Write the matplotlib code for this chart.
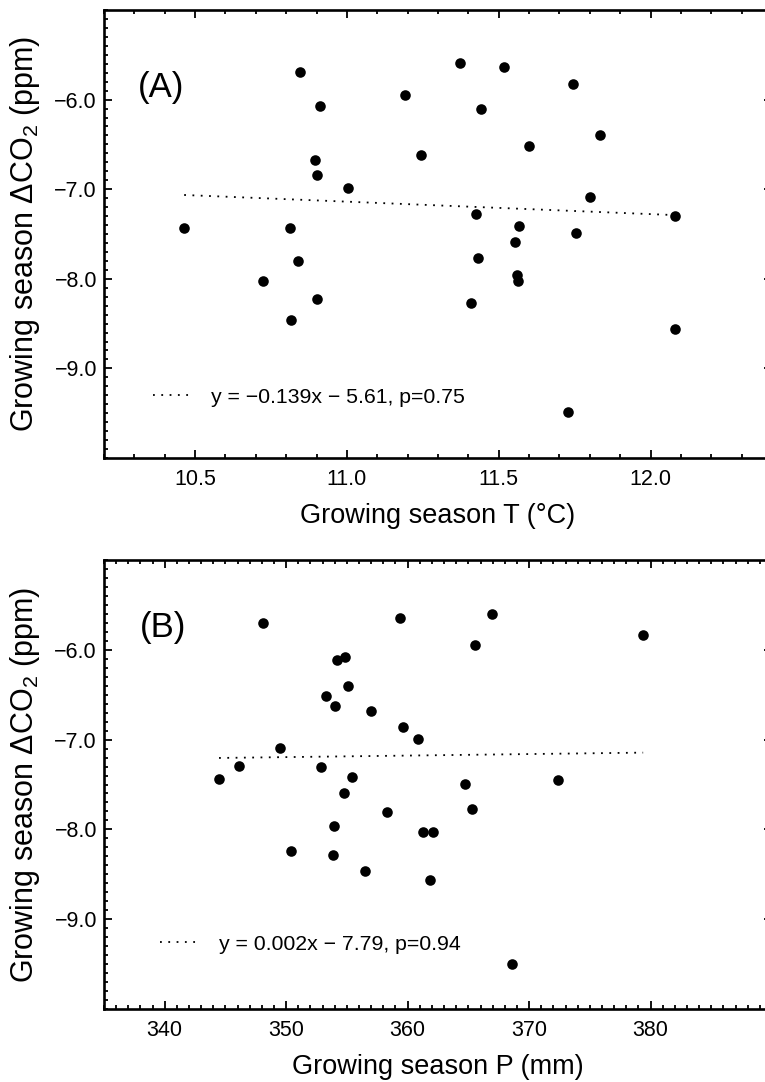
import numpy as np
import matplotlib
matplotlib.use("Agg")
import matplotlib.pyplot as plt
from matplotlib.ticker import MultipleLocator, FuncFormatter

plt.rcParams['font.family'] = ['Liberation Sans', 'DejaVu Sans']
plt.rcParams['mathtext.fontset'] = 'custom'
plt.rcParams['mathtext.rm'] = 'Liberation Sans'
plt.rcParams['mathtext.it'] = 'Liberation Sans:italic'

# panel A: growing season temperature vs delta CO2
temp_a = [10.844, 10.911, 10.896, 10.901, 11.004, 10.464, 10.811, 10.839,
          10.725, 10.901, 10.817, 11.371, 11.518, 11.744, 11.191, 11.443,
          11.834, 11.243, 11.599, 11.802, 11.424, 12.079, 11.568, 11.755,
          11.555, 11.432, 11.559, 11.565, 11.410, 12.079, 11.729]
dco2_a = [-5.696, -6.074, -6.672, -6.847, -6.985, -7.435, -7.435, -7.806,
          -8.025, -8.230, -8.464, -5.591, -5.640, -5.825, -5.948, -6.104,
          -6.390, -6.613, -6.513, -7.089, -7.282, -7.304, -7.416, -7.490,
          -7.587, -7.765, -7.962, -8.025, -8.274, -8.564, -9.486]

# panel B: growing season precipitation vs delta CO2
precip_b = [348.12, 354.16, 354.81, 355.09, 353.28, 354.04, 356.98, 349.49,
            346.12, 344.47, 352.84, 355.42, 354.76, 359.37, 366.96, 365.51,
            379.39, 359.59, 360.82, 364.72, 372.37, 358.32, 353.93, 350.40,
            353.88, 356.46, 365.29, 361.28, 362.05, 361.81, 368.61]
dco2_b = [-5.703, -6.111, -6.082, -6.398, -6.520, -6.621, -6.677, -7.097,
          -7.290, -7.438, -7.309, -7.420, -7.591, -5.643, -5.599, -5.952,
          -5.833, -6.855, -6.989, -7.498, -7.446, -7.803, -7.966, -8.238,
          -8.282, -8.468, -7.773, -8.033, -8.033, -8.568, -9.494]

# fitted lines (slope, intercept)
fit_a = (-0.139, -5.61)
fit_b = (0.0017, -7.79)
label_a = "y = \u22120.139x \u2212 5.61, p=0.75"
label_b = "y = 0.002x \u2212 7.79, p=0.94"

xticks_a = [10.5, 11.0, 11.5, 12.0]
xticks_b = [340, 350, 360, 370, 380]
yticks = [-6, -7, -8, -9]

def fmt(spec):
    return FuncFormatter(lambda v, pos: (spec % v).replace('-', '\u2212'))

fig = plt.figure(figsize=(7.65, 10.82), dpi=100)
W, H = 765, 1082

def make_ax(top, bottom):
    left, right = 104, 772
    return fig.add_axes([left / W, 1 - bottom / H, (right - left) / W, (bottom - top) / H])

ax1 = make_ax(10, 458)
ax2 = make_ax(560, 1009)

panels = [
    (ax1, temp_a, dco2_a, fit_a, label_a, (10.2, 12.4), xticks_a, 0.1, "%.1f",
     "Growing season T (\u00b0C)", "(A)", (0.05, 0.826), (0.073, 0.136)),
    (ax2, precip_b, dco2_b, fit_b, label_b, (335, 390), xticks_b, 1, "%d",
     "Growing season P (mm)", "(B)", (0.053, 0.85), (0.084, 0.144)),
]

for ax, x, y, fit, lab, xlim, xt, xmin, xfmt, xlabel, tag, tagpos, legpos in panels:
    x = np.array(x)
    ax.scatter(x, y, s=58, color='black', zorder=3, linewidths=0)
    xs = np.array([x.min(), x.max()])
    ax.plot(xs, fit[0] * xs + fit[1], color='black', lw=1.3,
            linestyle=(0, (1, 3.6)), label=lab)
    ax.set_xlim(*xlim)
    ax.set_ylim(-10, -5)
    ax.set_xticks(xt)
    ax.xaxis.set_minor_locator(MultipleLocator(xmin))
    ax.xaxis.set_major_formatter(fmt(xfmt))
    ax.set_yticks(yticks)
    ax.yaxis.set_minor_locator(MultipleLocator(0.1))
    ax.yaxis.set_major_formatter(fmt("%.1f"))
    ax.tick_params(which='both', direction='in', top=True, right=True,
                   labelsize=15.5, width=1.3, pad=5)
    ax.tick_params(axis='x', which='both', pad=8)
    ax.tick_params(which='major', length=5.5)
    ax.tick_params(which='minor', length=2.6)
    for sp in ax.spines.values():
        sp.set_linewidth(1.9)
    ax.set_xlabel(xlabel, fontsize=19.5, labelpad=9)
    ax.set_ylabel("Growing season $\\Delta$CO$_2$ (ppm)", fontsize=22)
    ax.yaxis.set_label_coords(-0.093, 0.5)
    ax.text(tagpos[0], tagpos[1], tag, transform=ax.transAxes, fontsize=25,
            ha='left', va='center')
    ax.legend(loc='center left', bbox_to_anchor=legpos, frameon=False,
              fontsize=15.3, handlelength=1.75, handletextpad=1.0,
              borderpad=0, borderaxespad=0)

fig.savefig("out.png", dpi=100)
